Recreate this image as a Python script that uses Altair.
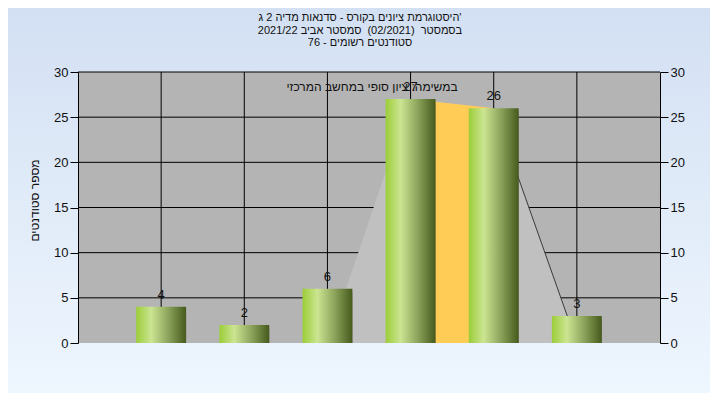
import json
import altair as alt
import pandas as pd

# ---- data ----
categories = ["70", "75", "80", "(Q1 85)", "(Q3 90)", "95"]
counts = [4, 2, 6, 27, 26, 3]
positions = [1, 2, 3, 4, 5, 6]

spread_pos = [3, 4, 5, 6]
spread_val = [0, 27, 26, 0]
quart_pos = [4, 5]
quart_val = [27, 26]
tail_pos = [5, 6]
tail_val = [26, 0]

y_ticks = [0, 5, 10, 15, 20, 25, 30]
y_grid = [5, 10, 15, 20, 25, 30]
x_grid = [1, 2, 3, 4, 5, 6]
x_ticks = [0, 1, 2, 3, 4, 5, 6, 7]

title_lines = [
    "היסטוגרמת ציונים בקורס - סדנאות מדיה 2 ג'",
    "בסמסטר\u00a0\u00a0(02/2021)\u00a0\u00a0סמסטר אביב 2021/22",
    "סטודנטים רשומים - 76",
]
note_text = "במשימה: ציון סופי במחשב המרכזי"
x_title = "טווח ציונים"
y_title = "מספר סטודנטים"

# ---- layout / style ----
W, H = 582, 271
PAD = {"left": 70, "top": 64, "right": 50, "bottom": 50}
FONT = "Liberation Sans"
TXT = "#111111"
HALF = 0.3

xscale = alt.Scale(domain=[0, 7], nice=False, zero=False)
yscale = alt.Scale(domain=[0, 30], nice=False)

bars_df = pd.DataFrame({"p": positions, "c": counts, "cat": categories})
bars_df["lo"] = bars_df["p"] - HALF
bars_df["hi"] = bars_df["p"] + HALF

one = pd.DataFrame({"a": [0]})

label_arr = [""] + categories + [""]
x_axis = alt.Axis(
    values=x_ticks, labelExpr=f"{json.dumps(label_arr, ensure_ascii=False)}[datum.value]",
    tickSize=5, tickColor="black", domainColor="black", grid=False,
    labelFont=FONT, labelFontSize=13, labelColor=TXT, labelPadding=6,
    labelFlush=False, labelOverlap=False,
    title=x_title, titleFont=FONT, titleFontSize=12, titleFontWeight="normal",
    titleColor=TXT, titleX=272, titleY=38, titleAlign="center", titleBaseline="middle",
    zindex=1,
)
left_axis = alt.Axis(
    orient="left", values=y_ticks, tickSize=8, tickColor="black", domainColor="black",
    grid=False, labelFont=FONT, labelFontSize=13, labelColor=TXT, labelPadding=2,
    labelOverlap=False,
    title=y_title, titleFont=FONT, titleFontSize=12, titleFontWeight="normal",
    titleColor=TXT, titleX=-44, titleY=128, titleAngle=270, titleAlign="center",
    titleBaseline="middle", zindex=1,
)
right_axis = alt.Axis(
    orient="right", values=y_ticks, tickSize=8, tickColor="black", domainColor="black",
    grid=False, labelFont=FONT, labelFontSize=13, labelColor=TXT, labelPadding=2,
    labelOverlap=False, title=None, zindex=1,
)

page_bg = alt.Chart(one).mark_rect(
    fill=alt.Gradient(gradient="linear", x1=0, y1=0, x2=0, y2=1,
                      stops=[alt.GradientStop(offset=0, color="#d3e0f3"),
                             alt.GradientStop(offset=1, color="#eef6fe")])
).encode(x=alt.value(-PAD["left"]), x2=alt.value(W + PAD["right"]),
         y=alt.value(-PAD["top"]), y2=alt.value(H + PAD["bottom"]))

plot_bg = alt.Chart(one).mark_rect(fill="#b4b4b4").encode(
    x=alt.X(datum=0, type="quantitative", scale=xscale, axis=None),
    x2=alt.X2(datum=7),
    y=alt.Y(datum=0, type="quantitative", scale=yscale, axis=None),
    y2=alt.Y2(datum=30),
)

hgrid = alt.Chart(pd.DataFrame({"v": y_grid})).mark_rule(color="black", strokeWidth=1).encode(
    x=alt.X(datum=0, type="quantitative", scale=xscale, axis=None),
    x2=alt.X2(datum=7),
    y=alt.Y("v:Q", scale=yscale, axis=left_axis),
)

vgrid = alt.Chart(pd.DataFrame({"p": x_grid, "y0": [0] * 6, "y1": [30] * 6})).mark_rule(
    color="black", strokeWidth=1).encode(
    x=alt.X("p:Q", scale=xscale, axis=None),
    y=alt.Y("y0:Q", scale=yscale, axis=right_axis),
    y2="y1:Q",
)

spread = alt.Chart(pd.DataFrame({"p": spread_pos, "v": spread_val})).mark_area(
    color="#c0c0c0", opacity=1).encode(
    x=alt.X("p:Q", scale=xscale, axis=None),
    y=alt.Y("v:Q", scale=yscale, axis=None),
)

quart = alt.Chart(pd.DataFrame({"p": quart_pos, "v": quart_val})).mark_area(
    color="#ffcc55", opacity=1).encode(
    x=alt.X("p:Q", scale=xscale, axis=None),
    y=alt.Y("v:Q", scale=yscale, axis=None),
)

tail = alt.Chart(pd.DataFrame({"p": tail_pos, "v": tail_val})).mark_line(
    color="#3a3a3a", strokeWidth=1).encode(
    x=alt.X("p:Q", scale=xscale, axis=None),
    y=alt.Y("v:Q", scale=yscale, axis=None),
)

def shadow(dx, dy, op):
    return alt.Chart(bars_df).mark_bar(color="#303030", opacity=op, xOffset=dx, yOffset=dy).encode(
        x=alt.X("lo:Q", scale=xscale, axis=None), x2="hi:Q",
        y=alt.Y("c:Q", scale=yscale, axis=None), y2=alt.Y2(datum=0),
    )

bars = alt.Chart(bars_df).mark_bar(
    fill=alt.Gradient(gradient="linear", x1=0, y1=0, x2=1, y2=0,
                      stops=[alt.GradientStop(offset=0, color="#9ccd38"),
                             alt.GradientStop(offset=0.3, color="#cbe592"),
                             alt.GradientStop(offset=0.65, color="#8aa25a"),
                             alt.GradientStop(offset=1, color="#465a1c")])
).encode(
    x=alt.X("lo:Q", scale=xscale, axis=x_axis), x2="hi:Q",
    y=alt.Y("c:Q", scale=yscale, axis=None), y2=alt.Y2(datum=0),
)

labels = alt.Chart(bars_df).mark_text(
    font=FONT, fontSize=13, color=TXT, baseline="alphabetic", dy=-8).encode(
    x=alt.X("p:Q", scale=xscale, axis=None),
    y=alt.Y("c:Q", scale=yscale, axis=None),
    text="c:Q",
)

note = alt.Chart(one).mark_text(
    font=FONT, fontSize=12, color=TXT, baseline="middle", align="center").encode(
    x=alt.value(W / 2 + 3), y=alt.value(15), text=alt.value(note_text),
)

title = alt.Chart(one).mark_text(
    font=FONT, fontSize=11, color=TXT, baseline="top", align="center", lineHeight=12.5).encode(
    x=alt.value(W / 2 - 9), y=alt.value(-60), text=alt.value(title_lines),
)

chart = alt.layer(
    page_bg, plot_bg, hgrid, vgrid, spread, quart, tail,
    shadow(7, 5, 0.18), shadow(4, 3, 0.35), bars, labels, note, title,
).resolve_scale(y="independent").properties(
    width=W, height=H, padding=PAD, autosize="none",
).configure_view(stroke=None)

chart.save("out.html", embed_options={"renderer": "svg", "actions": False})
